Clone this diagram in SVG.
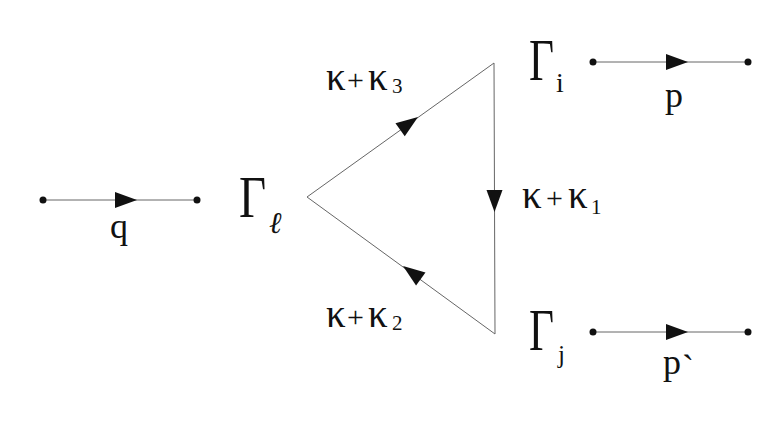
<svg xmlns="http://www.w3.org/2000/svg" width="766" height="421" viewBox="0 0 766 421">
<style>
.l{stroke:#666;stroke-width:1;fill:none}
.d{fill:#111}
.a{fill:#111}
text{font-family:"Liberation Serif","Times New Roman","DejaVu Serif",serif;fill:#111}
.g{font-size:60px}
.k{font-size:39px}
.pl{font-size:30px}
.sb{font-size:21px}
.m{font-size:36px}
</style>
<rect width="766" height="421" fill="#fff"/>
<g id="connectors">
<line class="l" x1="43" y1="200" x2="197" y2="200"/>
<polygon class="a" points="115,192 137,200 115,208"/>
<line class="l" x1="593" y1="62" x2="748" y2="62"/>
<polygon class="a" points="666,54 688,62 666,70"/>
<line class="l" x1="593" y1="332" x2="748" y2="332"/>
<polygon class="a" points="666,324 688,332 666,340"/>
<polyline class="l" points="494,63 307,197 495,334 494,63"/>
<polygon class="a" points="-22,-8 0,0 -22,8" transform="translate(418,117) rotate(-35.6)"/>
<polygon class="a" points="-22,-8 0,0 -22,8" transform="translate(494.5,212) rotate(90)"/>
<polygon class="a" points="-22,-8 0,0 -22,8" transform="translate(403,266) rotate(-143.9)"/>
</g>
<g id="q-in">
<circle class="d" cx="43" cy="200" r="3.5"/>
<circle class="d" cx="197" cy="200" r="3.5"/>
<text class="m" x="110" y="238">q</text>
</g>
<g id="p-out">
<circle class="d" cx="593" cy="62" r="3.5"/>
<circle class="d" cx="748" cy="62" r="3.5"/>
<text class="m" x="665" y="107">p</text>
</g>
<g id="pprime-out">
<circle class="d" cx="593" cy="332" r="3.5"/>
<circle class="d" cx="748" cy="332" r="3.5"/>
<text class="m" x="663" y="374">p<tspan x="682" y="380">`</tspan></text>
</g>
<g id="gamma-l">
<text class="g" transform="translate(239,217) scale(0.78,1)">Γ</text>
<text font-size="30" font-style="italic" x="269" y="233">ℓ</text>
</g>
<g id="gamma-i">
<text class="g" transform="translate(529,80) scale(0.72,1)">Γ</text>
<text font-size="28" x="556" y="92">i</text>
</g>
<g id="gamma-j">
<text class="g" transform="translate(529,350) scale(0.72,1)">Γ</text>
<text font-size="25" x="558" y="363">j</text>
</g>
<g id="labels">
<text class="k" x="326" y="90">κ</text><text class="pl" x="347" y="90">+</text><text class="k" x="368" y="90">κ</text><text class="sb" x="392" y="93">3</text>
<text class="k" x="522" y="208">κ</text><text class="pl" x="546" y="208">+</text><text class="k" x="568" y="208">κ</text><text class="sb" x="591" y="214">1</text>
<text class="k" x="326" y="327">κ</text><text class="pl" x="347" y="327">+</text><text class="k" x="368" y="327">κ</text><text class="sb" x="392" y="330">2</text>
</g>
</svg>
